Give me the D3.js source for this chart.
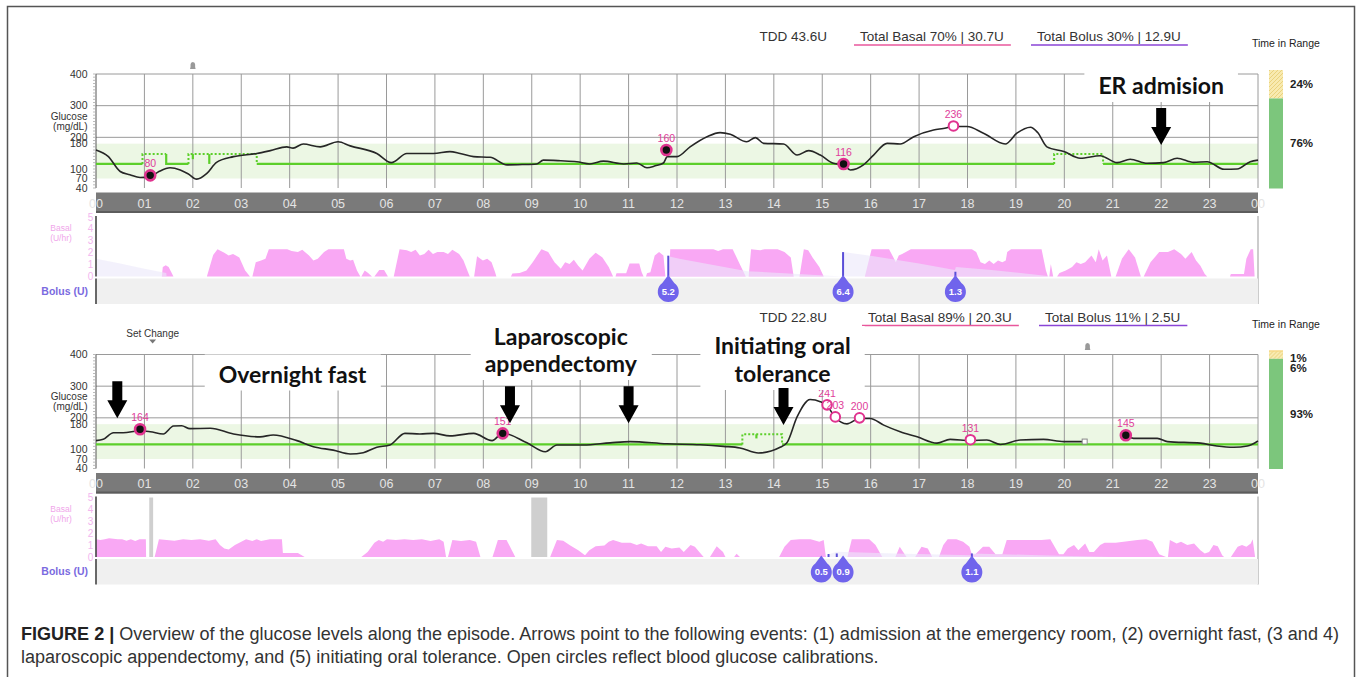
<!DOCTYPE html>
<html><head><meta charset="utf-8">
<script src="https://cdn.jsdelivr.net/npm/d3@7"></script>
<style>body{margin:0;background:#fff;} svg{display:block;}</style>
</head><body>
<svg id="chart" width="1358" height="677"></svg>
<script>
// ================= DATA =================
const hourLabels = ["00","01","02","03","04","05","06","07","08","09","10","11","12","13","14","15","16","17","18","19","20","21","22","23","00"];
const glucoseTicks = [400,300,200,180,100,70,40];
const glucoseGrid = [400,300,200];
const targetRange = [70,180];
const basalTicks = [0,1,2,3,4,5];

const tddTexts = ["TDD 43.6U","TDD 22.8U"];
const basalTotals = ["Total Basal 70% | 30.7U","Total Basal 89% | 20.3U"];
const bolusTotals = ["Total Bolus 30% | 12.9U","Total Bolus 11% | 2.5U"];

// Time in range [very high, high, in range] (%)
const tirTop = [0,24,76];
const tirBottom = [1,6,93];

// CGM glucose (hour, mg/dL)
const topGlucose = [[0,160],[0.25,140],[0.5,92],[0.7,82],[0.91,73],[1.12,76],[1.3,92],[1.53,104],[1.74,97],[1.9,85],[2.08,68],[2.29,86],[2.49,121],[2.84,139],[3.32,149],[3.6,158],[3.94,170],[4.07,166],[4.28,179],[4.63,170],[5.0,186],[5.25,173],[5.8,149],[6.1,120],[6.42,149],[6.97,149],[7.31,155],[7.52,149],[7.8,139],[8.14,137],[8.49,113],[8.8,114],[9.1,116],[9.24,128],[9.6,126],[9.93,123],[10.2,116],[10.48,125],[10.9,116],[11.17,119],[11.38,104],[11.55,110],[11.72,119],[11.8,139],[12.0,139],[12.27,170],[12.62,202],[12.89,215],[13.1,210],[13.44,186],[13.62,199],[13.79,181],[14.2,179],[14.48,144],[14.72,158],[14.96,144],[15.23,118],[15.44,113],[15.58,97],[15.85,113],[16.06,144],[16.34,181],[16.61,179],[16.89,202],[17.3,223],[17.5,228],[17.71,234],[17.99,234],[18.33,213],[18.78,179],[19.02,213],[19.3,232],[19.45,215],[19.64,170],[19.99,155],[20.33,134],[20.74,142],[21.09,120],[21.36,131],[21.71,118],[22.05,120],[22.33,134],[22.67,121],[22.95,123],[23.3,99],[23.57,100],[23.84,123],[24,128]];
const bottomGlucoseA = [[0,128],[0.15,132],[0.36,153],[0.56,153],[0.91,159],[1.12,156],[1.39,149],[1.6,174],[1.77,175],[1.94,166],[2.36,167],[2.84,149],[3.39,140],[3.66,146],[4.15,128],[4.49,109],[4.9,98],[5.25,86],[5.52,90],[5.8,107],[6.07,114],[6.38,151],[6.69,149],[6.97,151],[7.31,143],[7.8,151],[8.18,128],[8.4,152],[8.9,121],[9.28,93],[9.52,114],[10.07,114],[10.62,121],[11.03,125],[11.79,118],[12.48,115],[12.96,110],[13.3,105],[13.68,89],[14.13,107],[14.27,121],[14.48,203],[14.75,258],[14.96,251],[15.1,238],[15.27,201],[15.51,181],[15.77,198],[15.99,198],[16.27,177],[16.61,156],[16.96,140],[17.37,120],[17.64,132],[18.06,128],[18.4,130],[18.68,116],[19.09,130],[19.57,132],[19.99,125],[20.42,125]];
const bottomGlucoseB = [[21.3,143],[21.43,135],[21.92,135],[22.13,125],[22.81,120],[23.15,111],[23.5,107],[23.78,111],[24,127]];
const bottomSensorEnd = [[20.42,125]];

// Target glucose steps (solid and dotted parts)
const topTargetSolid = [[[0,116],[0.96,116]],[[1.45,147],[1.45,116],[1.91,116]],[[2.0,147],[2.0,131]],[[2.34,147],[2.34,116]],[[3.32,116],[19.79,116]],[[20.8,116],[24,116]]];
const topTargetDotted = [[[0.96,116],[0.96,147],[1.45,147]],[[1.91,116],[1.91,147],[3.32,147],[3.32,116]],[[19.79,116],[19.79,147],[20.8,147],[20.8,116]]];
const bottomTargetSolid = [[[0,116],[13.35,116]],[[13.64,148],[13.64,135]],[[14.17,116],[24,116]]];
const bottomTargetDotted = [[[13.35,116],[13.35,148],[14.17,148],[14.17,116]]];

// BG readings: hour, value, type (bg = filled, cal = calibration/open)
const topReadings = [[1.12,80,"bg"],[11.78,160,"bg"],[15.44,116,"bg"],[17.71,236,"cal"]];
const bottomReadings = [[0.91,164,"bg"],[8.4,151,"bg"],[15.1,241,"cal"],[15.27,203,"cal"],[15.77,200,"cal"],[18.06,131,"cal"],[21.27,145,"bg"]];

// Basal delivery segments (hour, U/hr)
const topBasal = [
 [[1.36,0],[1.38,0.8],[1.44,0.95],[1.5,0.8],[1.6,0]],
 [[2.29,0],[2.42,1.8],[2.51,2.3],[2.65,2.0],[2.74,1.77],[2.83,1.9],[2.96,1.6],[3.08,0.5],[3.18,0]],
 [[3.23,0],[3.3,1.2],[3.41,1.35],[3.5,1.5],[3.57,2.3],[3.95,2.3],[4.04,2.15],[4.17,2.05],[4.26,2.25],[4.4,1.77],[4.49,1.35],[4.58,1.5],[4.71,2.05],[4.8,2.3],[5.12,2.3],[5.17,1.5],[5.25,1.35],[5.31,1.4],[5.39,0.5],[5.46,0]],
 [[5.48,0],[5.55,0.5],[5.62,0.3],[5.7,0]],
 [[5.75,0],[5.85,0.55],[5.95,0.55],[6.03,0]],
 [[6.15,0],[6.27,2.3],[6.42,2.2],[6.51,2.05],[6.6,2.25],[6.69,1.77],[6.78,1.9],[6.87,2.25],[6.96,1.9],[7.05,2.05],[7.18,2.05],[7.27,1.9],[7.36,2.25],[7.5,1.9],[7.59,1.35],[7.68,0.4],[7.72,0]],
 [[7.81,0],[7.87,1.7],[7.99,1.35],[8.08,1.5],[8.17,1.2],[8.24,0.4],[8.27,0]],
 [[8.57,0],[8.6,0.25],[8.75,0.3],[8.89,0.5],[9.02,1.2],[9.2,2.3],[9.34,2.05],[9.47,1.2],[9.6,0.65],[9.69,1.2],[9.78,1.05],[9.87,1.4],[9.96,0.9],[10.05,0.5],[10.19,1.5],[10.32,2.0],[10.46,1.6],[10.59,0.8],[10.68,0]],
 [[10.73,0],[10.75,0.28],[10.95,0.28],[11.02,1.1],[11.22,1.1],[11.27,0.35],[11.31,0]],
 [[11.36,0],[11.38,0.28],[11.45,0.35],[11.54,1.77],[11.63,2.05],[11.72,1.77],[11.76,0]],
 [[11.84,0],[11.86,2.3],[12.75,2.3],[12.85,2.15],[12.95,2.3],[13.15,2.3],[13.3,1.0],[13.42,0]],
 [[13.48,0],[13.53,2.3],[13.72,2.2],[13.81,2.3],[14.08,2.3],[14.22,2.05],[14.35,1.6],[14.41,0]],
 [[14.53,0],[14.62,2.3],[14.71,2.2],[14.8,1.6],[14.94,0.8],[15.03,0]],
 [[15.88,0],[16.02,2.3],[16.38,2.3],[16.47,1.6],[16.52,1.2],[16.58,1.77],[16.65,1.9],[16.83,2.3],[18.09,2.3],[18.18,2.05],[18.27,1.2],[18.36,1.05],[18.45,1.35],[18.54,1.05],[18.63,1.35],[18.72,1.2],[18.79,1.35],[18.82,2.05],[18.9,2.3],[19.53,2.3],[19.62,0.5],[19.66,0]],
 [[19.69,0],[19.72,1.05],[19.77,0]],
 [[19.85,0],[19.9,0.3],[20.03,0.5],[20.16,0.8],[20.25,1.2],[20.34,1.05],[20.43,1.2],[20.56,1.77],[20.65,1.2],[20.71,2.3],[20.79,1.35],[20.88,1.77],[20.97,0]],
 [[21.06,0],[21.19,1.5],[21.33,2.3],[21.46,1.6],[21.58,0]],
 [[21.64,0],[21.78,1.2],[21.96,2.05],[22.14,2.05],[22.27,2.3],[22.41,1.9],[22.5,1.5],[22.63,2.05],[22.72,1.35],[22.81,0.9],[22.9,0.2],[22.95,0]],
 [[23.42,0],[23.44,0.2],[23.71,0.2],[23.76,1.5],[23.85,2.3],[23.9,2.3],[23.93,0]]
];
const bottomBasal = [
 [[0,0],[0.005,1.5],[0.09,1.43],[0.18,1.5],[0.27,1.57],[0.45,1.5],[0.54,1.5],[0.63,1.37],[0.72,1.5],[0.81,1.34],[0.9,1.5],[1.03,1.5],[1.035,0]],
 [[1.21,0],[1.22,0.15],[1.3,1.5],[1.62,1.37],[1.8,1.5],[1.97,1.43],[2.15,1.5],[2.33,1.37],[2.47,1.5],[2.56,1.0],[2.65,0.71],[2.74,0.63],[2.87,1.0],[3.0,1.29],[3.1,1.5],[3.23,1.34],[3.32,1.5],[3.41,1.34],[3.59,1.5],[3.84,1.5],[3.86,0.34],[4.17,0.34],[4.31,0]],
 [[5.48,0],[5.61,0.43],[5.75,1.2],[5.84,1.43],[5.93,1.29],[6.01,1.5],[6.19,1.43],[6.37,1.5],[6.55,1.43],[6.73,1.5],[6.91,1.34],[7.09,1.5],[7.18,1.29],[7.23,0]],
 [[7.27,0],[7.36,1.43],[7.54,1.34],[7.72,1.43],[7.85,1.29],[7.94,0]],
 [[8.19,0],[8.3,1.43],[8.48,1.43],[8.66,0]],
 [[9.38,0],[9.52,1.43],[9.65,1.37],[9.78,1.0],[9.96,0.57],[10.1,0.14],[10.19,0.57],[10.32,0.91],[10.5,0.97],[10.59,1.29],[10.68,1.43],[10.86,1.2],[11.04,1.2],[11.17,1.0],[11.26,1.14],[11.4,0.91],[11.58,0.91],[11.67,0.43],[11.76,0.86],[11.89,0.71],[12.05,0.8],[12.14,0.43],[12.28,1.0],[12.37,0.86],[12.46,0.43],[12.55,0]],
 [[12.68,0],[12.82,0.9],[12.95,0.43],[13.0,0]],
 [[13.18,0],[13.23,0.28],[13.3,0]],
 [[14.11,0],[14.22,0.86],[14.35,1.43],[14.53,1.5],[14.76,1.5],[14.94,1.29],[15.03,1.43],[15.07,0.14],[15.08,0]],
 [[15.52,0],[15.61,1.5],[15.97,1.5],[16.1,1.0],[16.24,0]],
 [[16.51,0],[16.6,0.86],[16.74,0]],
 [[16.92,0],[17.05,0.86],[17.18,0.71],[17.27,0]],
 [[17.41,0],[17.5,1.0],[17.59,1.5],[17.77,1.5],[17.91,1.29],[18.04,0.86],[18.09,0.23],[18.16,0.23],[18.32,0.86],[18.45,0.86],[18.58,0.23],[18.72,0.23],[18.81,1.43],[19.53,1.43],[19.71,1.5],[19.89,0.23],[19.98,0.23],[20.07,0.71],[20.2,1.0],[20.29,0.57],[20.43,1.14],[20.52,0.43],[20.61,0.43],[20.74,1.0],[20.83,1.2],[21.06,1.2],[21.51,1.43],[21.69,1.49],[21.82,1.29],[21.96,0.23],[22.1,0]],
 [[22.14,0],[22.18,1.43],[22.32,1.14],[22.41,1.29],[22.54,1.0],[22.68,1.14],[22.81,0.57],[22.9,0.29],[22.99,0.43],[23.08,1.0],[23.17,0.91],[23.26,0.14],[23.3,0]],
 [[23.44,0],[23.58,0.86],[23.67,1.0],[23.76,0.86],[23.85,1.14],[23.89,1.49],[23.94,0]]
];
// Suspensions (hour ranges)
const bottomSuspend = [[1.1,1.18],[8.99,9.32]];

// Insulin on board shading (hour, U/hr scale)
const topIOB = [
 [[0,1.5],[0.5,1.1],[1.0,0.65],[1.45,0.3],[1.46,0]],
 [[11.82,1.7],[12.05,1.5],[13.45,0.45],[15.42,0]],
 [[15.43,2.05],[16.0,1.75],[17.0,1.1],[17.74,0.55],[17.76,0.8],[18.5,0.55],[19.75,0]]
];
const bottomIOB = [
 [[15.12,0.2],[15.3,0.45],[16.5,0.3],[18.08,0.15],[18.1,0.3],[19.5,0.15],[21.0,0]]
];

// Boluses: hour, units, line height (U/hr scale), label hour
const topBoluses = [[11.82,"5.2",1.75,11.82],[15.43,"6.4",2.05,15.43],[17.75,"1.3",0.4,17.75]];
const bottomBoluses = [[15.13,"0.5",0.25,14.98],[15.3,"0.9",0.3,15.43],[18.09,"1.1",0.3,18.09]];

// Event annotations
const topArrows = [[22.0,176]];
const bottomArrows = [[0.44,199],[8.55,183],[11.0,183],[14.2,177]];
const topNotes = [[22.0,["ER admision"]]];
const bottomNotes = [[4.06,["Overnight fast"]],[9.6,["Laparoscopic","appendectomy"]],[14.18,["Initiating oral","tolerance"]]];
const topBells = [2.0];
const bottomBells = [20.48];
const bottomSetChange = [1.17];

const captionBold = "FIGURE 2 |";
const captionLine1 = " Overview of the glucose levels along the episode. Arrows point to the following events: (1) admission at the emergency room, (2) overnight fast, (3 and 4)";
const captionLine2 = "laparoscopic appendectomy, and (5) initiating oral tolerance. Open circles reflect blood glucose calibrations.";

// ================= DRAWING =================
const svg = d3.select("#chart");
const FONT = "'Liberation Sans', Arial, sans-serif";
const BOLDFONT = "Lato, 'Open Sans', sans-serif";
const x = d3.scaleLinear().domain([0,24]).range([96,1258]);

const defs = svg.append("defs");
const pat = defs.append("pattern").attr("id","hatch").attr("patternUnits","userSpaceOnUse").attr("width",4).attr("height",4);
pat.append("rect").attr("width",4).attr("height",4).attr("fill","#f8eab0");
pat.append("path").attr("d","M-1,1 l2,-2 M0,4 l4,-4 M3,5 l2,-2").attr("stroke","#e6cc70").attr("stroke-width",0.8);

// outer frame
svg.append("rect").attr("x",7.5).attr("y",6.5).attr("width",1347).attr("height",700).attr("fill","none").attr("stroke","#555").attr("stroke-width",1.5);

function drawPanel(off, cfg) {
  const g = svg.append("g").attr("transform",`translate(0,${off})`);
  const yG = d3.scaleLinear().domain([40,400]).range([188,74]);
  const yB = d3.scaleLinear().domain([0,5]).range([276.5,217]);

  // header
  g.append("text").attr("x",827).attr("y",41).attr("text-anchor","end").attr("font-family",FONT).attr("font-size",13.5).attr("fill","#333").text(cfg.tdd);
  [[cfg.basalTotal,cfg.basalX,"#e8579c"],[cfg.bolusTotal,cfg.bolusX,"#8a45d6"]].forEach(([t,sx,c])=>{
    const tx = g.append("text").attr("x",sx).attr("y",41).attr("font-family",FONT).attr("font-size",13.5).attr("fill","#333").text(t);
    const w = tx.node().getComputedTextLength();
    g.append("line").attr("x1",sx-6).attr("x2",sx+w+7).attr("y1",45).attr("y2",45).attr("stroke",c).attr("stroke-width",1.6);
  });
  g.append("text").attr("x",1252).attr("y",47).attr("font-family",FONT).attr("font-size",10.5).attr("fill","#222").text("Time in Range");

  // target band
  g.append("rect").attr("x",x(0)).attr("width",x(24)-x(0)).attr("y",yG(targetRange[1])).attr("height",yG(targetRange[0])-yG(targetRange[1])).attr("fill","#ecf7e4");

  // grid
  g.selectAll(".hg").data(glucoseGrid).join("line").attr("x1",x(0)).attr("x2",x(24)).attr("y1",d=>yG(d)).attr("y2",d=>yG(d)).attr("stroke","#9a9a9a").attr("stroke-width",1);
  g.selectAll(".vg").data(d3.range(1,25)).join("line").attr("x1",d=>x(d)).attr("x2",d=>x(d)).attr("y1",yG(400)).attr("y2",yG(40)).attr("stroke","#9a9a9a").attr("stroke-width",1);

  // y axis
  g.append("line").attr("x1",x(0)).attr("x2",x(0)).attr("y1",yG(400)).attr("y2",yG(40)).attr("stroke","#555").attr("stroke-width",1);
  g.selectAll(".mt").data(d3.range(40,401,10)).join("line").attr("x1",x(0)-3).attr("x2",x(0)).attr("y1",d=>yG(d)).attr("y2",d=>yG(d)).attr("stroke","#aaa").attr("stroke-width",0.8);
  g.selectAll(".yl").data(glucoseTicks).join("text").attr("x",87.5).attr("y",d=>yG(d)+3.6).attr("text-anchor","end").attr("font-family",FONT).attr("font-size",10.5).attr("fill","#333").text(d=>d);
  g.append("text").attr("x",87.5).attr("y",119.5).attr("text-anchor","end").attr("font-family",FONT).attr("font-size",10).attr("fill","#333").text("Glucose");
  g.append("text").attr("x",87.5).attr("y",129.5).attr("text-anchor","end").attr("font-family",FONT).attr("font-size",10).attr("fill","#333").text("(mg/dL)");

  // target lines
  const tl = d3.line().x(d=>x(d[0])).y(d=>yG(d[1]));
  g.selectAll(".ts").data(cfg.targetSolid).join("path").attr("d",tl).attr("fill","none").attr("stroke","#5ccf2a").attr("stroke-width",2.2);
  g.selectAll(".td").data(cfg.targetDotted).join("path").attr("d",tl).attr("fill","none").attr("stroke","#5ccf2a").attr("stroke-width",2).attr("stroke-dasharray","2,2");

  // glucose line
  const gl = d3.line().x(d=>x(d[0])).y(d=>yG(d[1])).curve(d3.curveMonotoneX);
  g.selectAll(".gl").data(cfg.glucose).join("path").attr("d",gl).attr("fill","none").attr("stroke","#262626").attr("stroke-width",1.6);
  (cfg.sensorEnd||[]).forEach(d=>{
    g.append("rect").attr("x",x(d[0])-2.5).attr("y",yG(d[1])-2.5).attr("width",5).attr("height",5).attr("fill","#fff").attr("stroke","#888").attr("stroke-width",1);
  });

  // readings
  cfg.readings.forEach(([h,v,t])=>{
    g.append("circle").attr("cx",x(h)).attr("cy",yG(v)).attr("r",t==="bg"?5:4.8)
      .attr("fill",t==="bg"?"#111":"#fff").attr("stroke","#e0338f").attr("stroke-width",t==="bg"?2.6:2);
    g.append("text").attr("x",x(h)).attr("y",yG(v)-8).attr("text-anchor","middle").attr("font-family",FONT).attr("font-size",10.5).attr("fill","#e0409a").text(v);
  });

  // axis bar
  g.append("rect").attr("x",x(0)).attr("width",x(24)-x(0)).attr("y",192.5).attr("height",20.5).attr("fill","#7a7a7a");
  g.append("rect").attr("x",x(0)).attr("width",x(24)-x(0)).attr("y",211).attr("height",2).attr("fill","#5c5c5c");
  g.selectAll(".hl").data(hourLabels).join("text").attr("x",(d,i)=>x(i)).attr("y",207.5).attr("text-anchor","middle").attr("font-family",FONT).attr("font-size",12.5).attr("fill","#e4e4e4").text(d=>d);

  // basal area
  g.append("text").attr("x",61).attr("y",231).attr("text-anchor","middle").attr("font-family",FONT).attr("font-size",8.5).attr("fill","#f0a6ea").text("Basal");
  g.append("text").attr("x",61).attr("y",241).attr("text-anchor","middle").attr("font-family",FONT).attr("font-size",8.5).attr("fill","#f0a6ea").text("(U/hr)");
  g.selectAll(".bt").data(basalTicks).join("text").attr("x",90.5).attr("y",d=>yB(d)+3.5).attr("text-anchor","middle").attr("font-family",FONT).attr("font-size",10).attr("fill","#f3b6ef").text(d=>d);
  const ba = d3.area().x(d=>x(d[0])).y0(yB(0)).y1(d=>yB(d[1]));
  (cfg.suspend||[]).forEach(([a,b])=>{
    g.append("rect").attr("x",x(a)).attr("width",x(b)-x(a)).attr("y",yB(5)).attr("height",yB(0)-yB(5)).attr("fill","#cfcfcf");
  });
  g.selectAll(".ba").data(cfg.basal).join("path").attr("d",ba).attr("fill","#f9a8f4");
  g.selectAll(".iob").data(cfg.iob).join("path").attr("d",ba).attr("fill","#ebe8fa").attr("fill-opacity",0.6);
  g.append("line").attr("x1",x(0)).attr("x2",x(0)).attr("y1",yB(5)-1).attr("y2",yB(0)).attr("stroke","#444").attr("stroke-width",1.6);
  g.append("line").attr("x1",x(24)).attr("x2",x(24)).attr("y1",yB(5)-1).attr("y2",304).attr("stroke","#999").attr("stroke-width",1);

  // bolus band
  g.append("rect").attr("x",x(0)).attr("width",x(24)-x(0)).attr("y",278.5).attr("height",25.5).attr("fill","#f0f0f0");
  g.append("line").attr("x1",x(0)).attr("x2",x(0)).attr("y1",278.5).attr("y2",304).attr("stroke","#444").attr("stroke-width",1.6);
  g.append("text").attr("x",88).attr("y",294.5).attr("text-anchor","end").attr("font-family",FONT).attr("font-size",10.5).attr("font-weight","bold").attr("fill","#7a6ae0").text("Bolus (U)");
  cfg.boluses.forEach(([h,u,top,lh])=>{
    g.append("line").attr("x1",x(h)).attr("x2",x(h)).attr("y1",yB(0)).attr("y2",yB(top)).attr("stroke","#5a4ed8").attr("stroke-width",2);
    const cx = x(lh), cy = 291;
    g.append("path").attr("d",`M${cx},${cy-16} L${cx+6},${cy-8} A10.5,10.5 0 1 1 ${cx-6},${cy-8} Z`).attr("fill","#7064ec");
    g.append("text").attr("x",cx).attr("y",cy+3.5).attr("text-anchor","middle").attr("font-family",FONT).attr("font-size",9.5).attr("font-weight","bold").attr("fill","#fff").text(u);
  });

  // TIR bar
  const tirY = d3.scaleLinear().domain([0,100]).range([70,188.5]);
  const tirFill = ["#f3c64c","url(#hatch)","#7cc67c"];
  let acc = 0, lastLabel = -1e9;
  cfg.tir.forEach((v,i)=>{
    if (v<=0) return;
    const y0 = tirY(acc), y1 = tirY(acc+v);
    g.append("rect").attr("x",1269).attr("width",14).attr("y",y0).attr("height",y1-y0).attr("fill",tirFill[i]);
    let ly = Math.max((y0+y1)/2, tirY(0)+7.5, lastLabel+9.5);
    lastLabel = ly;
    g.append("text").attr("x",1290).attr("y",ly+4).attr("font-family",FONT).attr("font-size",11.5).attr("font-weight","bold").attr("fill","#222").text(v+"%");
    acc += v;
  });

  // bells
  cfg.bells.forEach(h=>{
    const bx = x(h), by = cfg.bellY;
    g.append("path").attr("d",`M${bx-2.8},${by+3} L${bx+2.8},${by+3} L${bx+2.3},${by+1} L${bx+2.3},${by-1.5} Q${bx+2.3},${by-4} ${bx},${by-4} Q${bx-2.3},${by-4} ${bx-2.3},${by-1.5} L${bx-2.3},${by+1} Z`).attr("fill","#999");
  });
  (cfg.setChange||[]).forEach(h=>{
    g.append("text").attr("x",x(h)).attr("y",56).attr("text-anchor","middle").attr("font-family",FONT).attr("font-size",10).attr("fill","#333").text("Set Change");
    g.append("path").attr("d",`M${x(h)-3.5},${59} L${x(h)+3.5},${59} L${x(h)},${63} Z`).attr("fill","#777");
  });

  // annotation notes with white boxes
  cfg.notes.forEach(([h,lines,baselines])=>{
    const ng = g.append("g");
    const bg = ng.append("rect").attr("fill","#fff");
    const t = ng.append("text").attr("text-anchor","middle").attr("font-family",BOLDFONT).attr("font-weight",700).attr("font-size",23).attr("fill","#111");
    lines.forEach((ln,i)=>t.append("tspan").attr("x",x(h)).attr("y",baselines[i]).text(ln));
    const bb = t.node().getBBox();
    bg.attr("x",bb.x-14).attr("y",bb.y-5).attr("width",bb.width+28).attr("height",bb.height+8);
  });
  cfg.arrows.forEach(([h,tip])=>{
    const cx = x(h), ty = yG(tip), L = 37;
    g.append("path").attr("d",`M${cx-5},${ty-L} L${cx+5},${ty-L} L${cx+5},${ty-18} L${cx+10},${ty-18} L${cx},${ty} L${cx-10},${ty-18} L${cx-5},${ty-18} Z`).attr("fill","#000");
  });
}

drawPanel(0, {
  tdd: tddTexts[0], basalTotal: basalTotals[0], bolusTotal: bolusTotals[0], basalX: 860, bolusX: 1037,
  glucose: [topGlucose], targetSolid: topTargetSolid, targetDotted: topTargetDotted,
  readings: topReadings, basal: topBasal, iob: topIOB, boluses: topBoluses, tir: tirTop,
  bells: topBells, bellY: 66, notes: topNotes.map(d=>[d[0],d[1],[94]]), arrows: topArrows
});
drawPanel(280.5, {
  tdd: tddTexts[1], basalTotal: basalTotals[1], bolusTotal: bolusTotals[1], basalX: 868, bolusX: 1045,
  glucose: [bottomGlucoseA, bottomGlucoseB], sensorEnd: bottomSensorEnd, targetSolid: bottomTargetSolid, targetDotted: bottomTargetDotted,
  readings: bottomReadings, basal: bottomBasal, iob: bottomIOB, boluses: bottomBoluses, tir: tirBottom, suspend: bottomSuspend,
  bells: bottomBells, bellY: 66.5, setChange: bottomSetChange,
  notes: [[bottomNotes[0][0],bottomNotes[0][1],[102]],[bottomNotes[1][0],bottomNotes[1][1],[64.5,91.5]],[bottomNotes[2][0],bottomNotes[2][1],[73.5,101.5]]],
  arrows: bottomArrows
});

// caption
const cap = svg.append("g");
const c1 = cap.append("text").attr("x",21).attr("y",640).attr("font-family",FONT).attr("font-size",16).attr("fill","#333");
c1.append("tspan").attr("font-weight","bold").attr("fill","#222").text(captionBold);
c1.append("tspan").text(captionLine1);
const c2 = cap.append("text").attr("x",21).attr("y",663).attr("font-family",FONT).attr("font-size",16).attr("fill","#333").text(captionLine2);
const w1 = c1.node().getComputedTextLength();
const fs = 16*1319/w1;
c1.attr("font-size",fs); c2.attr("font-size",fs);
</script>
</body></html>
